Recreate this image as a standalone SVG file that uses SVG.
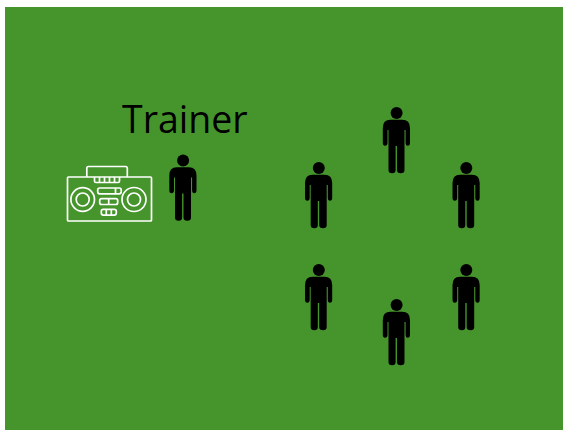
<svg xmlns="http://www.w3.org/2000/svg" width="563" height="430" viewBox="0 0 563 430">
<style>
.l{fill:none;stroke:#fff;stroke-width:1.7}
.t{font-family:"Open Sans",sans-serif;font-size:37.500px;fill:#000}
</style>
<defs>
<g id="p">
<circle cx="0.300" cy="6" r="6"/>
<path d="M-6 12.800H6Q13.700 12.800 13.700 21V35.500Q13.700 38.800 11.500 38.800Q9.300 38.800 9.300 35.500V23H8.200V63Q8.200 66.300 4.500 66.300Q0.700 66.300 0.700 63V39H-0.700V63Q-0.700 66.300 -4.200 66.300Q-7.800 66.300 -7.800 63V23H-8.800V35.500Q-8.800 38.800 -11.200 38.800Q-13.500 38.800 -13.500 35.500V21Q-13.500 12.800 -6 12.800Z"/>
</g>
</defs>
<rect id="field" x="5" y="7" width="558" height="423" fill="#46952c"/>
<text id="label" class="t" x="122" y="133">Trainer</text>
<g id="boombox">
<rect class="l" x="67.500" y="177" width="84" height="44" rx="1"/>
<path class="l" d="M86.800 177V168.300Q86.800 166.500 88.500 166.500H125.500Q127.300 166.500 127.300 168.300V177"/>
<path class="l" d="M94.500 177V181Q94.500 182.500 96 182.500H118Q119.500 182.500 119.500 181V177M99.500 177V182.500M104.500 177V182.500M109.500 177V182.500M114.500 177V182.500"/>
<circle class="l" cx="82.700" cy="199.500" r="11.800"/><circle class="l" cx="82.700" cy="199.500" r="6.500"/>
<circle class="l" cx="134" cy="199.500" r="12"/><circle class="l" cx="134" cy="199.500" r="6.500"/>
<rect class="l" x="97.700" y="188" width="23.500" height="5.800" rx="2"/><path class="l" d="M115.500 188V193.800"/>
<rect class="l" x="99.700" y="198.700" width="18" height="5.800" rx="2"/><path class="l" d="M108.700 198.700V204.500"/>
<rect class="l" x="101.300" y="209.300" width="15" height="5.800" rx="2"/><path class="l" d="M106.300 209.300V215.100M111.300 209.300V215.100"/>
</g>
<use id="trainer" href="#p" x="182.800" y="154.500"/>
<use id="person1" href="#p" x="396.300" y="107"/>
<use id="person2" href="#p" x="318.500" y="162"/>
<use id="person3" href="#p" x="466" y="162"/>
<use id="person4" href="#p" x="318.500" y="264"/>
<use id="person5" href="#p" x="466" y="264"/>
<use id="person6" href="#p" x="396.300" y="299"/>
</svg>
